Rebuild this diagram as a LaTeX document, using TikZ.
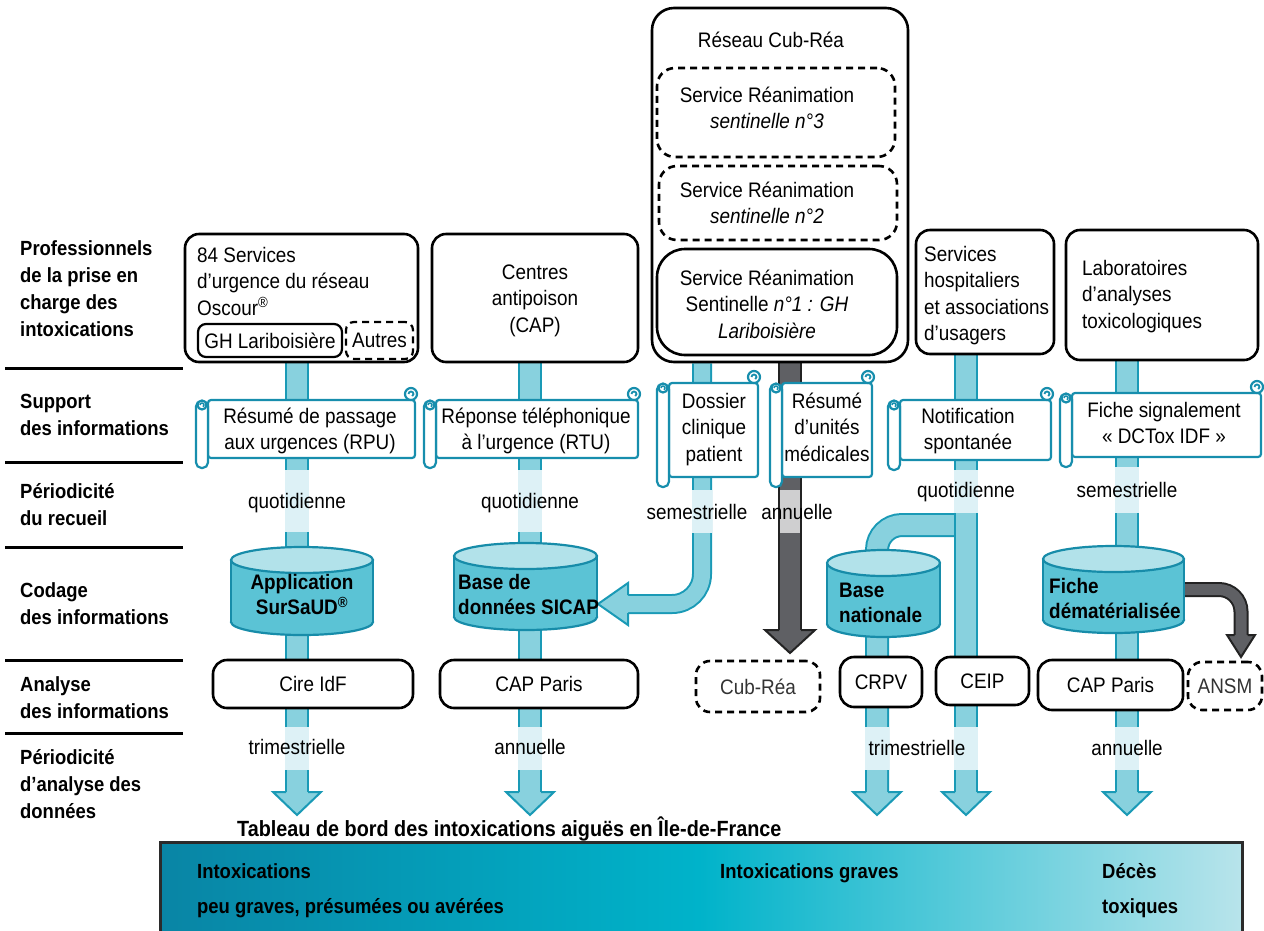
\documentclass[tikz,border=0pt]{standalone}
\usepackage{fontspec}
\setmainfont{Liberation Sans}[FakeStretch=0.9]
\usetikzlibrary{calc}
\pgfdeclarelayer{bg}
\pgfsetlayers{bg,main}
\definecolor{pipeF}{HTML}{88D1DE}
\definecolor{pipeB}{HTML}{1A9AB6}
\definecolor{bandF}{HTML}{DDF1F6}
\definecolor{cylF}{HTML}{5BC3D5}
\definecolor{cylT}{HTML}{B2E2EA}
\definecolor{cylB}{HTML}{178CA9}
\definecolor{scrB}{HTML}{178EAD}
\definecolor{darkF}{HTML}{5F6064}
\definecolor{darkB}{HTML}{232323}
\definecolor{darkBand}{HTML}{CFCFD0}
\definecolor{barA}{HTML}{0985A5}
\definecolor{barB}{HTML}{00B3CA}
\definecolor{barC}{HTML}{B8E4EB}
\definecolor{inkgray}{HTML}{333333}
\definecolor{barEdge}{HTML}{2B2B2B}

\newcommand\txtf{\fontsize{21}{26.5}\selectfont}
\newcommand\lblf{\fontsize{20.5}{27}\selectfont\bfseries}
\newcommand\titf{\fontsize{22}{27}\selectfont\bfseries}
\newcommand\cylf{\fontsize{21}{25.5}\selectfont\bfseries}

\tikzset{
 box/.style={draw=black, line width=2.6pt, rounded corners=14pt, fill=white, inner sep=0pt, align=center, font=\txtf},
 dbox/.style={box, dash pattern=on 7pt off 5pt},
 txt/.style={inner sep=0pt, font=\txtf, align=center},
 ctxt/.style={txt, anchor=north},
 ltxt/.style={txt, anchor=north west, align=left},
 btxt/.style={inner sep=0pt, anchor=north west, align=left, font=\lblf},
 bartxt/.style={inner sep=0pt, anchor=base west, font=\lblf},
 rowline/.style={line width=3pt, black},
 pipe/.style={draw=pipeB, line width=2pt, double=pipeF, double distance=20pt},
 pipehead/.style={fill=pipeF, draw=pipeB, line width=2pt},
 dpipe/.style={draw=darkB, line width=2pt, double=darkF, double distance=20pt},
 dhead/.style={fill=darkF, draw=darkB, line width=2pt},
 scrollpaper/.style={fill=white, draw=scrB, line width=2.2pt},
 cylbody/.style={fill=cylF, draw=cylB, line width=2.2pt},
 cyltop/.style={fill=cylT, draw=cylB, line width=2.2pt},
}

% rounded box from corners
\newcommand\rbox[7][]{%
 \pgfmathsetmacro\rbW{#5-#3}\pgfmathsetmacro\rbH{#6-#4}%
 \node[box,#1,minimum width=\rbW pt,minimum height=\rbH pt] (#2) at ({(#3+#5)/2},{(#4+#6)/2}) {#7};}

% scroll: name, x1, x2, ytop, ybottom, text x, text north y, text
\newcommand\scrollshape[8]{%
 \filldraw[scrollpaper, rounded corners=3pt] ({#2+12},#4) rectangle (#3,#5);
 \filldraw[scrollpaper] ({#3-4},{#4-6}) circle [radius=6pt];
 \draw[scrB, line width=1.8pt] ({#3-6.5},{#4-6}) arc [start angle=180, end angle=-60, radius=2.5pt];
 \filldraw[scrollpaper, rounded corners=5.5pt] (#2,{#4+1}) rectangle ({#2+12},{#5+10});
 \filldraw[scrollpaper] ({#2+6},{#4+5}) circle [radius=4.5pt];
 \draw[scrB, line width=1.5pt] ({#2+4},{#4+5}) arc [start angle=180, end angle=-60, radius=2pt];
 \node[ctxt] (#1) at (#6,#7) {\strut #8};
}

% cylinder: name, x1, x2, ytop centre, ybottom centre
\newcommand\cyl[5]{%
 \pgfmathsetmacro\cyC{(#2+#3)/2}%
 \pgfmathsetmacro\cyR{(#3-#2)/2}%
 \filldraw[cylbody] (\cyC,#5) ellipse [x radius=\cyR pt, y radius=13pt];
 \fill[cylF] (#2,#4) rectangle (#3,#5);
 \draw[cylB, line width=2.2pt] (#2,#4) -- (#2,#5) (#3,#4) -- (#3,#5);
 \filldraw[cyltop] (\cyC,#4) ellipse [x radius=\cyR pt, y radius=13pt];
 \coordinate (#1) at (\cyC,{(#4+#5)/2});
}

% light arrow head: x centre, y top
\newcommand\lhead[2]{%
 \filldraw[pipehead] ({#1-11},#2) -- ({#1-24},#2) -- (#1,{#2+23}) -- ({#1+24},#2) -- ({#1+11},#2);}

\begin{document}
\begin{tikzpicture}[x=1pt,y=-1pt]
\useasboundingbox (0,0) rectangle (1264,930);

% ---------- left labels ----------
\node[btxt] (l1) at (20,236) {\strut Professionnels\\de la prise en\\charge des\\intoxications};
\node[btxt] (l2) at (20,389) {\strut Support\\des informations};
\node[btxt] (l3) at (20,479) {\strut Périodicité\\du recueil};
\node[btxt] (l4) at (20,578) {\strut Codage\\des informations};
\node[btxt] (l5) at (20,672) {\strut Analyse\\des informations};
\node[btxt] (l6) at (20,745) {\strut Périodicité\\d’analyse des\\données};
\foreach \yy in {368,462,547,660,733} \draw[rowline] (5,\yy) -- (183,\yy);

% ---------- column 1 ----------
\rbox{urg}{185}{234}{418}{362}{}
\node[ltxt] (urgT) at (197,243.5) {\strut 84 Services\\d’urgence du réseau\\Oscour\textsuperscript{®}};
\rbox[rounded corners=8pt, line width=2.2pt]{ghl}{198}{324}{342}{357}{GH Lariboisière}
\rbox[dbox, rounded corners=8pt, line width=2.2pt]{autres}{346}{322}{413}{359}{\raisebox{-4pt}{Autres}}
\scrollshape{rpu}{196}{415}{400}{458}{310}{404.5}{Résumé de passage\\aux urgences (RPU)}
\node[txt, anchor=base] (q1) at (297,508) {quotidienne};
\cyl{sursaud}{231}{373}{560}{622}
\node[ctxt, font=\cylf] (sursaudT) at (302,571) {\strut Application\\SurSaUD\textsuperscript{®}};
\rbox{cire}{213}{660}{413}{708}{Cire IdF}
\node[txt, anchor=base] (t1) at (297,754) {trimestrielle};

% ---------- column 2 ----------
\rbox{cap}{432}{234}{638}{362}{}
\node[ctxt] (capT) at (535,260.5) {\strut Centres\\antipoison\\(CAP)};
\scrollshape{rtu}{424}{638}{400}{458}{536}{404.5}{Réponse téléphonique\\à l’urgence (RTU)}
\node[txt, anchor=base] (q2) at (530,508) {quotidienne};
\cyl{sicap}{454}{597}{556}{617}
\node[ltxt, font=\cylf] (sicapT) at (458,571) {\strut Base de\\données SICAP};
\rbox{capparis}{440}{660}{638}{708}{CAP Paris}
\node[txt, anchor=base] (a2) at (530,754) {annuelle};

% ---------- Cub-Rea ----------
\rbox[rounded corners=22pt]{cubrea}{652}{8}{908}{362}{}
\node[txt, anchor=base] (cubreaT) at (771,47) {Réseau Cub-Réa};
\rbox[dbox, rounded corners=18pt]{s3}{657}{68}{895}{157}{}
\node[ctxt] (s3T) at (767,83.5) {\strut Service Réanimation\\\textit{sentinelle n°3}};
\rbox[dbox, rounded corners=18pt]{s2}{659}{166}{897}{240}{}
\node[ctxt] (s2T) at (767,178.5) {\strut Service Réanimation\\\textit{sentinelle n°2}};
\rbox[rounded corners=28pt]{s1}{657}{249}{897}{355}{}
\node[ctxt] (s1T) at (767,266.5) {\strut Service Réanimation\\Sentinelle \textit{n°1 : GH}\\\textit{Lariboisière}};
\scrollshape{dcp}{657}{758}{383}{477}{714}{389.5}{Dossier\\clinique\\patient}
\scrollshape{rum}{770}{872}{383}{477}{827}{389.5}{Résumé\\d’unités\\médicales}
\node[txt, anchor=base] (sem1) at (697,519) {semestrielle};
\node[txt, anchor=base] (ann1) at (797,519) {annuelle};
\rbox[dbox]{cubreaA}{696}{661}{820}{712}{\color{inkgray}Cub-Réa}

% ---------- services hospitaliers ----------
\rbox{serv}{916}{230}{1054}{354}{}
\node[ltxt] (servT) at (924,242.5) {\strut Services\\hospitaliers\\et associations\\d’usagers};
\scrollshape{notif}{888}{1051}{400}{460}{968}{404.5}{Notification\\spontanée}
\node[txt, anchor=base] (q3) at (966,497) {quotidienne};
\cyl{basenat}{827}{940}{563}{624}
\node[ltxt, font=\cylf] (basenatT) at (839,579) {\strut Base\\nationale};
\rbox{crpv}{840}{657}{922}{707}{CRPV}
\rbox{ceip}{936}{657}{1029}{705}{CEIP}
\node[txt, anchor=base] (t3) at (917,755) {trimestrielle};

% ---------- laboratoires ----------
\rbox{labo}{1066}{230}{1258}{360}{}
\node[ltxt] (laboT) at (1082,256.5) {\strut Laboratoires\\d’analyses\\toxicologiques};
\scrollshape{dctox}{1060}{1261}{393}{457}{1164}{398.5}{Fiche signalement\\« DCTox IDF »}
\node[txt, anchor=base] (sem2) at (1127,497) {semestrielle};
\cyl{fiche}{1043}{1184}{559}{620}
\node[ltxt, font=\cylf] (ficheT) at (1049,575) {\strut Fiche\\dématérialisée};
\rbox{cap2}{1038}{660}{1183}{710}{CAP Paris}
\rbox[dbox]{ansm}{1188}{662}{1262}{710}{\color{inkgray}ANSM}
\node[txt, anchor=base] (a4) at (1127,755) {annuelle};

% ---------- bottom ----------
\node[inner sep=0pt, anchor=base west, font=\titf] (title) at (237,836) {Tableau de bord des intoxications aiguës en Île-de-France};
\shade[left color=barA, right color=barB] (160,842) rectangle (700,935);
\shade[left color=barB, right color=barC] (699.5,842) rectangle (1242,935);
\draw[line width=3pt, barEdge] (160,935) -- (160,842) -- (1242,842) -- (1242,935);
\coordinate (bar) at (701,842);
\node[bartxt] (bt1) at (197,878) {Intoxications};
\node[bartxt] (bt2) at (197,913) {peu graves, présumées ou avérées};
\node[bartxt] (bt3) at (720,878) {Intoxications graves};
\node[bartxt] (bt4) at (1102,878) {Décès};
\node[bartxt] (bt5) at (1102,913) {toxiques};

% ---------- pipes (behind) ----------
\begin{pgfonlayer}{bg}
 \coordinate (tipY) at (0,792);
 % column 1
 \draw[pipe] (297,0 |- urg.south) -- (297,0 |- tipY);
 \lhead{297}{792}
 % column 2
 \draw[pipe] (530,0 |- cap.south) -- (530,0 |- tipY);
 \lhead{530}{792}
 % Cub-Rea light pipe to SICAP
 \draw[pipe, double distance=16pt, rounded corners=30pt] (702,0 |- cubrea.south) -- (702,604) -- (628,604);
 \filldraw[pipehead] (628,595) -- (628,583) -- (598,604) -- (628,625) -- (628,613);
 % Cub-Rea dark pipe
 \draw[dpipe] (790,0 |- cubrea.south) -- (790,630);
 \filldraw[dhead] (779,630) -- (765,630) -- (790,653) -- (815,630) -- (801,630);
 % branch to base nationale and CRPV
 \draw[pipe, rounded corners=25pt] (966,525) -| (877,0 |- tipY);
 \lhead{877}{792}
 % CEIP
 \draw[pipe] (966,0 |- serv.south) -- (966,0 |- tipY);
 \lhead{966}{792}
 % laboratoires
 \draw[pipe] (1127,0 |- labo.south) -- (1127,0 |- tipY);
 \lhead{1127}{792}
 % fiche -> ANSM dark arrow
 \draw[draw=darkB, line width=2pt, double=darkF, double distance=11pt, rounded corners=22pt] (1184,0 |- fiche) -| (1241,635);
 \filldraw[dhead] (1234.5,635) -- (1227,635) -- (1241,657) -- (1255,635) -- (1247.5,635);
 % bands
 \fill[bandF] (285,470) rectangle (309,532);
 \fill[bandF] (518,470) rectangle (542,532);
 \fill[bandF] (692,490) rectangle (712,533);
 \fill[darkBand] (780,490) rectangle (800,533);
 \fill[bandF] (954,470) rectangle (978,513);
 \fill[bandF] (1115,467) rectangle (1139,513);
 \foreach \xx in {297,530,877,966,1127} \fill[bandF] (\xx-12,727) rectangle (\xx+12,770);
\end{pgfonlayer}
\end{tikzpicture}
\end{document}
